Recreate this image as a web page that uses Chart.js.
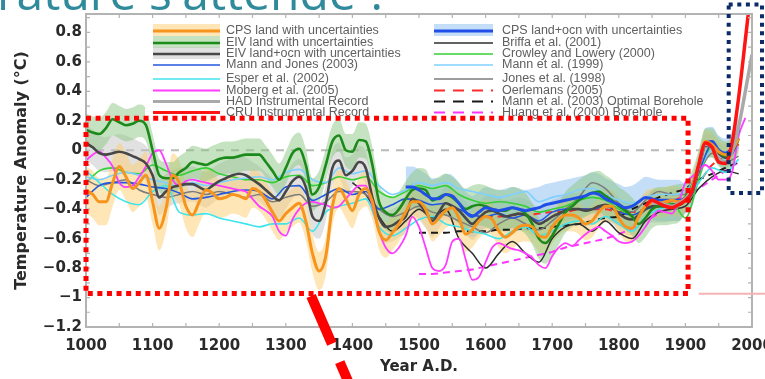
<!DOCTYPE html>
<html>
<head>
<meta charset="utf-8">
<script src="https://cdn.jsdelivr.net/npm/chart.js@4.4.1/dist/chart.umd.min.js"></script>
<style>
    html, body { margin: 0; padding: 0; background: #fff; }
    #wrap { position: relative; width: 765px; height: 379px; }
</style>
</head>
<body>
<div id="wrap"><canvas id="myChart"></canvas></div>
<script>
// ---- datos ----
var years10 = [
    1000, 1010, 1020, 1030, 1040, 1050, 1060, 1070, 1080, 1090,
    1100, 1110, 1120, 1130, 1140, 1150, 1160, 1170, 1180, 1190,
    1200, 1210, 1220, 1230, 1240, 1250, 1260, 1270, 1280, 1290,
    1300, 1310, 1320, 1330, 1340, 1350, 1360, 1370, 1380, 1390,
    1400, 1410, 1420, 1430, 1440, 1450, 1460, 1470, 1480, 1490,
    1500, 1510, 1520, 1530, 1540, 1550, 1560, 1570, 1580, 1590,
    1600, 1610, 1620, 1630, 1640, 1650, 1660, 1670, 1680, 1690,
    1700, 1710, 1720, 1730, 1740, 1750, 1760, 1770, 1780, 1790,
    1800, 1810, 1820, 1830, 1840, 1850, 1860, 1870, 1880, 1890,
    1900, 1910, 1920, 1930, 1940, 1950, 1960, 1970, 1980, 1990,
    2000
];
var years20 = [
    1000, 1020, 1040, 1060, 1080, 1100, 1120, 1140, 1160, 1180,
    1200, 1220, 1240, 1260, 1280, 1300, 1320, 1340, 1360, 1380,
    1400, 1420, 1440, 1460, 1480, 1500, 1520, 1540, 1560, 1580,
    1600, 1620, 1640, 1660, 1680, 1700, 1720, 1740, 1760, 1780,
    1800, 1820, 1840, 1860, 1880, 1900, 1920, 1940, 1960, 1980,
    2000
];
var instYears = [1840, 1850, 1860, 1870, 1880, 1890, 1900, 1910, 1920, 1930, 1940, 1950, 1960, 1970, 1980, 1990, 2000];

var xTicks = [1000, 1100, 1200, 1300, 1400, 1500, 1600, 1700, 1800, 1900, 2000];
var xTickLabels = ['1000', '1100', '1200', '1300', '1400', '1500', '1600', '1700', '1800', '1900', '2000'];
var yTicks = [-1.2, -1, -0.8, -0.6, -0.4, -0.2, 0, 0.2, 0.4, 0.6, 0.8];
var yTickLabels = ['\u22121.2', '\u22121', '\u22120.8', '\u22120.6', '\u22120.4', '\u22120.2', '0', '0.2', '0.4', '0.6', '0.8'];

// CPS land (naranja)
var cpsLand = [
    -0.27, -0.30, -0.35, -0.35, -0.22, -0.11, -0.18, -0.26, -0.22, -0.17,
    -0.35, -0.53, -0.40, -0.17, -0.22, -0.38, -0.44, -0.35, -0.27, -0.29,
    -0.33, -0.32, -0.30, -0.31, -0.33, -0.26, -0.28, -0.34, -0.42, -0.48,
    -0.43, -0.39, -0.36, -0.48, -0.70, -0.82, -0.72, -0.38, -0.26, -0.33,
    -0.41, -0.30, -0.26, -0.35, -0.55, -0.61, -0.56, -0.50, -0.42, -0.35,
    -0.35, -0.40, -0.50, -0.46, -0.41, -0.39, -0.46, -0.57, -0.54, -0.48,
    -0.45, -0.47, -0.55, -0.59, -0.56, -0.52, -0.51, -0.52, -0.58, -0.59,
    -0.52, -0.47, -0.44, -0.44, -0.46, -0.50, -0.48, -0.42, -0.38, -0.38,
    -0.46, -0.52, -0.53, -0.45, -0.38, -0.36, -0.36, -0.35, -0.34, -0.35,
    -0.33, -0.25, -0.10, 0.06, 0.04, -0.01, -0.03, 0.00, 0.08, null,
    null
];
var cpsLandErr = [
    0.16, 0.16, 0.16, 0.16, 0.16, 0.16, 0.16, 0.16, 0.16, 0.16,
    0.15, 0.15, 0.15, 0.15, 0.15, 0.15, 0.15, 0.15, 0.15, 0.15,
    0.13, 0.13, 0.13, 0.13, 0.13, 0.13, 0.13, 0.13, 0.13, 0.13,
    0.13, 0.13, 0.13, 0.13, 0.13, 0.13, 0.13, 0.13, 0.13, 0.13,
    0.12, 0.12, 0.12, 0.12, 0.12, 0.12, 0.12, 0.12, 0.12, 0.12,
    0.12, 0.12, 0.12, 0.12, 0.12, 0.12, 0.12, 0.12, 0.12, 0.12,
    0.11, 0.11, 0.11, 0.11, 0.11, 0.11, 0.11, 0.11, 0.11, 0.11,
    0.11, 0.11, 0.11, 0.11, 0.11, 0.11, 0.11, 0.11, 0.11, 0.11,
    0.10, 0.10, 0.10, 0.10, 0.10, 0.10, 0.10, 0.10, 0.10, 0.10,
    0.08, 0.08, 0.08, 0.08, 0.08, 0.08, 0.08, 0.08, 0.08, null,
    null
];
// EIV land (verde)
var eivLand = [
    0.14, 0.12, 0.11, 0.15, 0.21, 0.19, 0.17, 0.18, 0.20, 0.17,
    0.00, -0.17, -0.19, -0.19, -0.15, -0.12, -0.08, -0.09, -0.10, -0.08,
    -0.06, -0.05, -0.05, -0.04, -0.03, -0.03, -0.03, -0.08, -0.14, -0.20,
    -0.12, -0.02, 0.01, -0.10, -0.30, -0.25, -0.10, 0.06, 0.10, 0.00,
    -0.01, 0.07, 0.06, -0.10, -0.35, -0.42, -0.44, -0.40, -0.33, -0.27,
    -0.26, -0.27, -0.34, -0.32, -0.30, -0.32, -0.36, -0.40, -0.38, -0.37,
    -0.38, -0.40, -0.41, -0.41, -0.39, -0.40, -0.43, -0.50, -0.60, -0.63,
    -0.58, -0.50, -0.42, -0.38, -0.34, -0.31, -0.29, -0.28, -0.31, -0.34,
    -0.38, -0.41, -0.45, -0.50, -0.46, -0.40, -0.38, -0.38, -0.37, -0.36,
    -0.32, -0.24, -0.10, 0.05, 0.05, -0.01, -0.04, -0.01, 0.08, null,
    null
];
var eivLandErr = [
    0.11, 0.11, 0.11, 0.11, 0.11, 0.11, 0.11, 0.11, 0.11, 0.11,
    0.11, 0.11, 0.11, 0.11, 0.11, 0.11, 0.11, 0.11, 0.11, 0.11,
    0.11, 0.11, 0.11, 0.11, 0.11, 0.11, 0.11, 0.11, 0.11, 0.11,
    0.11, 0.11, 0.11, 0.11, 0.11, 0.11, 0.11, 0.11, 0.11, 0.11,
    0.12, 0.12, 0.12, 0.12, 0.12, 0.12, 0.12, 0.12, 0.12, 0.12,
    0.14, 0.14, 0.14, 0.14, 0.14, 0.14, 0.14, 0.14, 0.14, 0.14,
    0.14, 0.14, 0.14, 0.14, 0.14, 0.14, 0.14, 0.14, 0.14, 0.14,
    0.14, 0.14, 0.14, 0.14, 0.14, 0.14, 0.14, 0.14, 0.14, 0.14,
    0.13, 0.13, 0.13, 0.13, 0.13, 0.13, 0.13, 0.13, 0.13, 0.13,
    0.10, 0.10, 0.10, 0.10, 0.10, 0.10, 0.10, 0.10, 0.10, null,
    null
];
// EIV land+ocn (gris oscuro)
var eivOcn = [
    0.05, 0.02, -0.02, -0.03, -0.02, -0.01, -0.02, -0.04, -0.06, -0.09,
    -0.17, -0.32, -0.28, -0.25, -0.24, -0.23, -0.23, -0.25, -0.27, -0.24,
    -0.21, -0.19, -0.17, -0.16, -0.17, -0.20, -0.23, -0.27, -0.31, -0.34,
    -0.28, -0.21, -0.18, -0.25, -0.45, -0.48, -0.36, -0.12, -0.07, -0.17,
    -0.14, -0.08, -0.12, -0.32, -0.46, -0.52, -0.51, -0.48, -0.45, -0.33,
    -0.36, -0.42, -0.48, -0.42, -0.36, -0.38, -0.41, -0.46, -0.50, -0.46,
    -0.42, -0.41, -0.43, -0.45, -0.44, -0.43, -0.44, -0.47, -0.50, -0.48,
    -0.45, -0.43, -0.41, -0.40, -0.40, -0.41, -0.40, -0.38, -0.37, -0.39,
    -0.43, -0.46, -0.47, -0.44, -0.40, -0.38, -0.38, -0.38, -0.37, -0.37,
    -0.34, -0.27, -0.13, 0.03, 0.03, -0.02, -0.05, -0.02, 0.08, null,
    null
];
var eivOcnErr = [
    0.12, 0.12, 0.12, 0.12, 0.12, 0.12, 0.12, 0.12, 0.12, 0.12,
    0.12, 0.12, 0.12, 0.12, 0.12, 0.12, 0.12, 0.12, 0.12, 0.12,
    0.12, 0.12, 0.12, 0.12, 0.12, 0.12, 0.12, 0.12, 0.12, 0.12,
    0.12, 0.12, 0.12, 0.12, 0.12, 0.12, 0.12, 0.12, 0.12, 0.12,
    0.11, 0.11, 0.11, 0.11, 0.11, 0.11, 0.11, 0.11, 0.11, 0.11,
    0.11, 0.11, 0.11, 0.11, 0.11, 0.11, 0.11, 0.11, 0.11, 0.11,
    0.11, 0.11, 0.11, 0.11, 0.11, 0.11, 0.11, 0.11, 0.11, 0.11,
    0.11, 0.11, 0.11, 0.11, 0.11, 0.11, 0.11, 0.11, 0.11, 0.11,
    0.11, 0.11, 0.11, 0.11, 0.11, 0.11, 0.11, 0.11, 0.11, 0.11,
    0.08, 0.08, 0.08, 0.08, 0.08, 0.08, 0.08, 0.08, 0.08, null,
    null
];
// CPS land+ocn (azul)
var cpsOcn = [
    null, null, null, null, null, null, null, null, null, null,
    null, null, null, null, null, null, null, null, null, null,
    null, null, null, null, null, null, null, null, null, null,
    null, null, null, null, null, null, null, null, null, null,
    null, null, null, null, null, null, null, null, -0.25, -0.25,
    -0.27, -0.30, -0.33, -0.33, -0.30, -0.31, -0.36, -0.42, -0.45, -0.42,
    -0.39, -0.40, -0.41, -0.40, -0.39, -0.40, -0.41, -0.40, -0.39, -0.37,
    -0.36, -0.35, -0.34, -0.33, -0.32, -0.31, -0.29, -0.30, -0.33, -0.35,
    -0.37, -0.39, -0.38, -0.35, -0.32, -0.33, -0.34, -0.34, -0.34, -0.34,
    -0.33, -0.29, -0.12, 0.05, 0.06, 0.00, -0.02, 0.02, 0.14, null,
    null
];
var cpsOcnErr = [
    null, null, null, null, null, null, null, null, null, null,
    null, null, null, null, null, null, null, null, null, null,
    null, null, null, null, null, null, null, null, null, null,
    null, null, null, null, null, null, null, null, null, null,
    null, null, null, null, null, null, null, null, 0.14, 0.14,
    0.14, 0.14, 0.14, 0.14, 0.14, 0.14, 0.14, 0.14, 0.14, 0.14,
    0.14, 0.14, 0.14, 0.14, 0.14, 0.14, 0.14, 0.14, 0.14, 0.14,
    0.14, 0.14, 0.14, 0.14, 0.14, 0.14, 0.14, 0.14, 0.14, 0.14,
    0.14, 0.14, 0.14, 0.14, 0.14, 0.14, 0.14, 0.14, 0.14, 0.14,
    0.10, 0.10, 0.10, 0.10, 0.10, 0.10, 0.10, 0.10, 0.10, null,
    null
];
// Moberg et al. (2005)
var moberg = [
    -0.07, -0.03, -0.01, -0.05, -0.11, -0.22, -0.25, -0.24, -0.18, -0.11,
    -0.02, 0.00, -0.09, -0.20, -0.24, -0.21, -0.20, -0.21, -0.22, -0.23,
    -0.24, -0.25, -0.26, -0.27, -0.28, -0.33, -0.38, -0.41, -0.45, -0.55,
    -0.58, -0.47, -0.40, -0.36, -0.35, -0.36, -0.37, -0.39, -0.38, -0.33,
    -0.28, -0.24, -0.24, -0.38, -0.55, -0.66, -0.70, -0.66, -0.58, -0.45,
    -0.52, -0.66, -0.80, -0.82, -0.78, -0.62, -0.60, -0.74, -0.88, -0.86,
    -0.76, -0.66, -0.63, -0.65, -0.67, -0.68, -0.70, -0.73, -0.78, -0.80,
    -0.72, -0.66, -0.63, -0.65, -0.61, -0.57, -0.54, -0.52, -0.55, -0.58,
    -0.62, -0.63, -0.62, -0.58, -0.52, -0.45, -0.41, -0.42, -0.43, -0.35,
    -0.22, -0.18, -0.14, -0.10, -0.14, -0.20, -0.20, -0.15, 0.10, 0.22,
    null
];
// registros instrumentales
var cru = [-0.38, -0.34, -0.36, -0.38, -0.39, -0.37, -0.34, -0.28, -0.10, 0.05, 0.02, -0.08, -0.09, 0.05, 0.36, 0.75, 1.15];
var had = [null, -0.36, -0.36, -0.37, -0.38, -0.36, -0.33, -0.27, -0.11, 0.04, 0.02, -0.06, -0.08, -0.01, 0.16, 0.40, 0.65];

// series finas (cada 20 anios)
var mannJones = [
    -0.32, -0.24, -0.22, -0.22, -0.23, -0.25, -0.26, -0.29, -0.33, -0.32,
    -0.30, -0.28, -0.27, -0.28, -0.33, -0.25, -0.24, -0.34, -0.30, -0.26,
    -0.30, -0.28, -0.40, -0.37, -0.33, -0.34, -0.37, -0.36, -0.40, -0.44,
    -0.45, -0.43, -0.46, -0.44, -0.48, -0.42, -0.40, -0.40, -0.40, -0.38,
    -0.42, -0.44, -0.40, -0.38, -0.37, -0.33, -0.15, 0.04, -0.04, 0.10,
    null
];
var esper = [
    -0.14, -0.22, -0.30, -0.35, -0.37, -0.28, -0.24, -0.42, -0.44, -0.43,
    -0.46, -0.48, -0.50, -0.52, -0.50, -0.50, -0.46, -0.55, -0.42, -0.38,
    -0.36, -0.33, -0.52, -0.58, -0.53, -0.47, -0.45, -0.50, -0.52, -0.55,
    -0.57, -0.60, -0.55, -0.52, -0.58, -0.55, -0.50, -0.48, -0.50, -0.45,
    -0.50, -0.55, -0.45, -0.40, -0.38, -0.34, -0.22, -0.12, -0.15, -0.06,
    null
];
var mann99 = [
    -0.18, -0.20, -0.17, -0.15, -0.17, -0.20, -0.22, -0.25, -0.22, -0.24,
    -0.22, -0.20, -0.19, -0.18, -0.20, -0.15, -0.13, -0.20, -0.22, -0.12,
    -0.16, -0.14, -0.24, -0.30, -0.27, -0.22, -0.24, -0.22, -0.26, -0.28,
    -0.30, -0.32, -0.30, -0.28, -0.35, -0.32, -0.30, -0.27, -0.26, -0.30,
    -0.34, -0.36, -0.32, -0.30, -0.30, -0.28, -0.14, 0.00, -0.06, 0.02,
    null
];
var crowley = [
    -0.22, -0.14, -0.12, -0.15, -0.16, -0.10, -0.14, -0.17, -0.14, -0.12,
    -0.16, -0.18, -0.20, -0.20, -0.22, -0.18, -0.17, -0.24, -0.22, -0.18,
    -0.20, -0.18, -0.28, -0.32, -0.28, -0.24, -0.26, -0.24, -0.30, -0.34,
    -0.36, -0.35, -0.36, -0.38, -0.42, -0.40, -0.38, -0.34, -0.32, -0.34,
    -0.40, -0.44, -0.40, -0.38, -0.36, -0.46, -0.20, 0.03, -0.03, null,
    null
];
var jones = [
    -0.20, -0.24, -0.22, -0.20, -0.27, -0.30, -0.32, -0.30, -0.28, -0.30,
    -0.28, -0.30, -0.32, -0.30, -0.35, -0.32, -0.30, -0.38, -0.35, -0.28,
    -0.28, -0.30, -0.40, -0.45, -0.42, -0.38, -0.42, -0.44, -0.48, -0.52,
    -0.56, -0.50, -0.46, -0.50, -0.54, -0.48, -0.40, -0.32, -0.22, -0.26,
    -0.36, -0.42, -0.34, -0.28, -0.30, -0.30, -0.16, -0.02, -0.08, -0.04,
    null
];
var briffa = [
    null, null, null, null, null, null, null, null, null, null,
    null, null, null, null, null, null, null, null, null, null,
    -0.22, -0.30, -0.45, -0.55, -0.48, -0.40, -0.46, -0.40, -0.60, -0.70,
    -0.80, -0.70, -0.62, -0.70, -0.76, -0.60, -0.52, -0.50, -0.55, -0.48,
    -0.56, -0.60, -0.48, -0.42, -0.40, -0.38, -0.26, -0.18, -0.14, -0.16,
    null
];
var oerlemans = [
    null, null, null, null, null, null, null, null, null, null,
    null, null, null, null, null, null, null, null, null, null,
    null, null, null, null, null, null, null, null, null, null,
    -0.45, -0.45, -0.44, -0.44, -0.43, -0.42, -0.42, -0.40, -0.40, -0.40,
    -0.42, -0.42, -0.40, -0.38, -0.35, -0.30, -0.22, -0.10, -0.04, 0.04,
    null
];
var borehole = [
    null, null, null, null, null, null, null, null, null, null,
    null, null, null, null, null, null, null, null, null, null,
    null, null, null, null, null, -0.56, -0.56, -0.56, -0.55, -0.55,
    -0.55, -0.54, -0.54, -0.53, -0.53, -0.52, -0.51, -0.50, -0.48, -0.46,
    -0.45, -0.40, -0.36, -0.32, -0.29, -0.26, -0.20, -0.16, -0.12, -0.08,
    null
];
var huang = [
    null, null, null, null, null, null, null, null, null, null,
    null, null, null, null, null, null, null, null, null, null,
    null, null, null, null, null, -0.84, -0.84, -0.83, -0.82, -0.81,
    -0.79, -0.77, -0.75, -0.73, -0.71, -0.69, -0.66, -0.64, -0.62, -0.60,
    -0.57, -0.53, -0.48, -0.43, -0.38, -0.32, -0.26, -0.20, -0.14, -0.08,
    null
];

var legendLeft = [
    'CPS land with uncertainties', 'EIV land with uncertainties', 'EIV land+ocn with uncertainties',
    'Mann and Jones (2003)', 'Esper et al. (2002)', 'Moberg et al. (2005)',
    'HAD Instrumental Record', 'CRU Instrumental Record'
];
var legendRight = [
    'CPS land+ocn with uncertainties', 'Briffa et al. (2001)', 'Crowley and Lowery (2000)',
    'Mann et al. (1999)', 'Jones et al. (1998)', 'Oerlemans (2005)',
    'Mann et al. (2003) Optimal Borehole', 'Huang et al. (2000) Borehole'
];
var legendLeftKeys = ['cpsLand', 'eivLand', 'eivOcn', 'mannJones', 'esper', 'moberg', 'had', 'cru'];
var legendRightKeys = ['cpsOcn', 'briffa', 'crowley', 'mann99', 'jones', 'oerlemans', 'borehole', 'huang'];

// ---- estilos ----
var estilos = {
    cpsLand: { color: '#f7941d', width: 3, band: 'rgba(253, 205, 110, 0.5)' },
    eivLand: { color: '#1b8a1b', width: 2.6, band: 'rgba(140, 200, 130, 0.5)' },
    eivOcn: { color: '#474747', width: 2.6, band: 'rgba(195, 195, 195, 0.5)' },
    mannJones: { color: '#2257e0', width: 1.6 },
    esper: { color: '#40e4ec', width: 1.6 },
    moberg: { color: '#ff3cff', width: 1.8 },
    had: { color: '#a9a9a9', width: 3.5 },
    cru: { color: '#ff1414', width: 3.5 },
    cpsOcn: { color: '#1f4fe8', width: 3, band: 'rgba(140, 190, 240, 0.5)' },
    briffa: { color: '#2e2e2e', width: 1.5 },
    crowley: { color: '#35d035', width: 1.6 },
    mann99: { color: '#80d0ff', width: 1.6 },
    jones: { color: '#7c7c7c', width: 1.5 },
    oerlemans: { color: '#ff2a2a', width: 2, dash: [7, 5] },
    borehole: { color: '#1a1a1a', width: 2, dash: [7, 5] },
    huang: { color: '#ff33ff', width: 2, dash: [7, 5] }
};

var toPoints = function (xs, ys) {
    return xs.map(function (x, i) { return { x: x, y: ys[i] }; });
};

var linea = function (label, xs, ys, key, order) {
    var st = estilos[key];
    return {
        label: label,
        data: toPoints(xs, ys),
        borderColor: st.color,
        backgroundColor: st.color,
        borderWidth: st.width,
        borderDash: st.dash || [],
        pointRadius: 0,
        fill: false,
        cubicInterpolationMode: 'monotone',
        order: order
    };
};

// banda de incertidumbre: valor +/- error
var banda = function (label, xs, ys, err, key, order) {
    var alto = ys.map(function (v, i) { return (v === null || err[i] === null) ? null : v + err[i]; });
    var bajo = ys.map(function (v, i) { return (v === null || err[i] === null) ? null : v - err[i]; });
    var comun = { borderWidth: 0, borderColor: 'transparent', pointRadius: 0, cubicInterpolationMode: 'monotone', order: order };
    return [
        Object.assign({ label: label + ' sup', data: toPoints(xs, alto), fill: '+1', backgroundColor: estilos[key].band }, comun),
        Object.assign({ label: label + ' inf', data: toPoints(xs, bajo), fill: false, backgroundColor: 'transparent' }, comun)
    ];
};

var datasets = [];
datasets.push(linea(legendLeft[7], instYears, cru, 'cru', 1));
datasets.push(linea(legendLeft[6], instYears, had, 'had', 2));
datasets.push(linea(legendLeft[0], years10, cpsLand, 'cpsLand', 3));
datasets.push(linea(legendRight[0], years10, cpsOcn, 'cpsOcn', 4));
datasets.push(linea(legendLeft[1], years10, eivLand, 'eivLand', 5));
datasets.push(linea(legendLeft[2], years10, eivOcn, 'eivOcn', 6));
datasets.push(linea(legendLeft[5], years10, moberg, 'moberg', 7));
datasets.push(linea(legendLeft[3], years20, mannJones, 'mannJones', 8));
datasets.push(linea(legendLeft[4], years20, esper, 'esper', 9));
datasets.push(linea(legendRight[3], years20, mann99, 'mann99', 10));
datasets.push(linea(legendRight[2], years20, crowley, 'crowley', 11));
datasets.push(linea(legendRight[4], years20, jones, 'jones', 12));
datasets.push(linea(legendRight[1], years20, briffa, 'briffa', 13));
datasets.push(linea(legendRight[5], years20, oerlemans, 'oerlemans', 14));
datasets.push(linea(legendRight[6], years20, borehole, 'borehole', 15));
datasets.push(linea(legendRight[7], years20, huang, 'huang', 16));
datasets = datasets.concat(banda('eivLand', years10, eivLand, eivLandErr, 'eivLand', 20));
datasets = datasets.concat(banda('cpsLand', years10, cpsLand, cpsLandErr, 'cpsLand', 21));
datasets = datasets.concat(banda('cpsOcn', years10, cpsOcn, cpsOcnErr, 'cpsOcn', 22));
datasets = datasets.concat(banda('eivOcn', years10, eivOcn, eivOcnErr, 'eivOcn', 23));

// ---- leyenda, marco y anotaciones de la diapositiva ----
var filasLeyenda = [31, 43, 54, 65, 79, 90.5, 101.5, 112.5];

var dibujarLeyenda = function (ctx, labels, keys, x0, x1, xt) {
    ctx.font = '12.5px "Liberation Sans", Arial, sans-serif';
    ctx.textBaseline = 'middle';
    ctx.textAlign = 'left';
    labels.forEach(function (txt, i) {
        var st = estilos[keys[i]];
        var yy = filasLeyenda[i];
        if (st.band) {
            ctx.fillStyle = st.band;
            ctx.fillRect(x0, yy - 7, x1 - x0, 12);
        }
        ctx.strokeStyle = st.color;
        ctx.lineWidth = Math.min(st.width, 3);
        ctx.setLineDash(st.dash ? [11, 8] : []);
        ctx.beginPath();
        ctx.moveTo(x0, yy);
        ctx.lineTo(x1, yy);
        ctx.stroke();
        ctx.fillStyle = '#606060';
        ctx.fillText(txt, xt, yy);
    });
    ctx.setLineDash([]);
};

var decorado = {
    id: 'decorado',
    beforeDatasetsDraw: function (chart) {
        var ctx = chart.ctx, sx = chart.scales.x, sy = chart.scales.y;
        ctx.save();
        ctx.strokeStyle = '#b9b9b9';
        ctx.lineWidth = 2;
        ctx.setLineDash([8, 7]);
        ctx.beginPath();
        ctx.moveTo(sx.getPixelForValue(1015), sy.getPixelForValue(0));
        ctx.lineTo(sx.getPixelForValue(1960), sy.getPixelForValue(0));
        ctx.stroke();
        ctx.restore();
    },
    afterDatasetsDraw: function (chart) {
        var ctx = chart.ctx, a = chart.chartArea, sx = chart.scales.x, sy = chart.scales.y;
        ctx.save();
        // caja blanca de la leyenda
        ctx.fillStyle = '#ffffff';
        ctx.fillRect(145, a.top + 1, 568, 104);
        dibujarLeyenda(ctx, legendLeft, legendLeftKeys, 153, 220, 226);
        dibujarLeyenda(ctx, legendRight, legendRightKeys, 434, 493, 502);
        // marco con marcas hacia dentro
        ctx.strokeStyle = '#b3b3b3';
        ctx.lineWidth = 2;
        ctx.strokeRect(a.left, a.top, a.right - a.left, a.bottom - a.top);
        ctx.lineWidth = 1.2;
        ctx.beginPath();
        for (var yr = 1050; yr < 2000; yr += 50) {
            var px = sx.getPixelForValue(yr);
            ctx.moveTo(px, a.bottom); ctx.lineTo(px, a.bottom - 4);
            ctx.moveTo(px, a.top); ctx.lineTo(px, a.top + 4);
        }
        for (var k = -11; k <= 9; k++) {
            var py = sy.getPixelForValue(k / 10);
            ctx.moveTo(a.left, py); ctx.lineTo(a.left + 4, py);
            ctx.moveTo(a.right, py); ctx.lineTo(a.right - 4, py);
        }
        ctx.stroke();
        ctx.restore();
    },
    afterDraw: function (chart) {
        var ctx = chart.ctx, sx = chart.scales.x, sy = chart.scales.y;
        ctx.save();
        // linea rosa tenue
        ctx.strokeStyle = '#f6b3b3';
        ctx.lineWidth = 2;
        ctx.beginPath();
        ctx.moveTo(sx.getPixelForValue(1920), sy.getPixelForValue(-0.975));
        ctx.lineTo(chart.width, sy.getPixelForValue(-0.975));
        ctx.stroke();
        // recuadro rojo punteado
        ctx.strokeStyle = '#ff0000';
        ctx.lineWidth = 5;
        ctx.setLineDash([5, 4.6]);
        var rx0 = sx.getPixelForValue(1000), rx1 = sx.getPixelForValue(1904);
        var ry0 = sy.getPixelForValue(0.218), ry1 = sy.getPixelForValue(-0.973);
        ctx.strokeRect(rx0, ry0, rx1 - rx0, ry1 - ry0);
        // recuadro azul marino punteado
        ctx.strokeStyle = '#0b2a66';
        ctx.lineWidth = 4;
        ctx.setLineDash([4, 4.6]);
        var bx0 = sx.getPixelForValue(1965), bx1 = sx.getPixelForValue(2015);
        var by0 = sy.getPixelForValue(0.99), by1 = sy.getPixelForValue(-0.29);
        ctx.strokeRect(bx0, by0, bx1 - bx0, by1 - by0);
        // trazo rojo grueso discontinuo
        ctx.strokeStyle = '#ff0000';
        ctx.lineWidth = 10;
        ctx.setLineDash([52, 20]);
        var dx0 = sx.getPixelForValue(1338), dy0 = sy.getPixelForValue(-0.99);
        ctx.beginPath();
        ctx.moveTo(dx0, dy0);
        ctx.lineTo(dx0 + 36 * 1.5, dy0 + 83 * 1.5);
        ctx.stroke();
        // titulo de la diapositiva (cortado arriba)
        ctx.setLineDash([]);
        ctx.fillStyle = '#2f8a9c';
        ctx.font = '48px "Open Sans", sans-serif';
        ctx.textBaseline = 'alphabetic';
        ctx.textAlign = 'left';
        ctx.fillText('rature s\'attende ?', -3, 10);
        ctx.restore();
    }
};

var fuenteEje = { family: '"DejaVu Sans", sans-serif', size: 15, weight: 'bold' };

var ctx = document.getElementById('myChart');
var myChart = new Chart(ctx, {
    type: 'line',
    data: { datasets: datasets },
    plugins: [decorado],
    options: {
        responsive: true,
        maintainAspectRatio: false,
        animation: false,
        devicePixelRatio: 1,
        events: [],
        layout: { padding: { top: 14, right: 13, bottom: 0, left: 0 } },
        plugins: {
            legend: { display: false },
            tooltip: { enabled: false }
        },
        scales: {
            x: {
                type: 'linear',
                min: 1000,
                max: 2000,
                grid: { display: false, drawTicks: false },
                border: { display: false },
                afterBuildTicks: function (scale) {
                    scale.ticks = xTicks.map(function (v) { return { value: v }; });
                },
                afterFit: function (scale) {
                    scale.height = 52;
                    scale.paddingLeft = 0;
                    scale.paddingRight = 0;
                },
                ticks: {
                    autoSkip: false,
                    maxRotation: 0,
                    padding: 10,
                    color: '#2a2a2a',
                    font: fuenteEje,
                    callback: function (value, index) { return xTickLabels[index]; }
                },
                title: {
                    display: true,
                    text: 'Year A.D.',
                    color: '#2a2a2a',
                    font: fuenteEje,
                    padding: { top: 0, bottom: 3 }
                }
            },
            y: {
                type: 'linear',
                min: -1.2,
                max: 0.925,
                grid: { display: false, drawTicks: false },
                border: { display: false },
                afterBuildTicks: function (scale) {
                    scale.ticks = yTicks.map(function (v) { return { value: v }; });
                },
                afterFit: function (scale) {
                    scale.width = 86;
                    scale.paddingTop = 0;
                    scale.paddingBottom = 0;
                },
                ticks: {
                    padding: 4,
                    color: '#2a2a2a',
                    font: fuenteEje,
                    callback: function (value, index) { return yTickLabels[index]; }
                },
                title: {
                    display: true,
                    text: 'Temperature Anomaly (\u00b0C)',
                    color: '#2a2a2a',
                    font: { family: '"DejaVu Sans", sans-serif', size: 16, weight: 'bold' },
                    padding: { top: 12, bottom: 0 }
                }
            }
        }
    }
});
</script>
</body>
</html>
